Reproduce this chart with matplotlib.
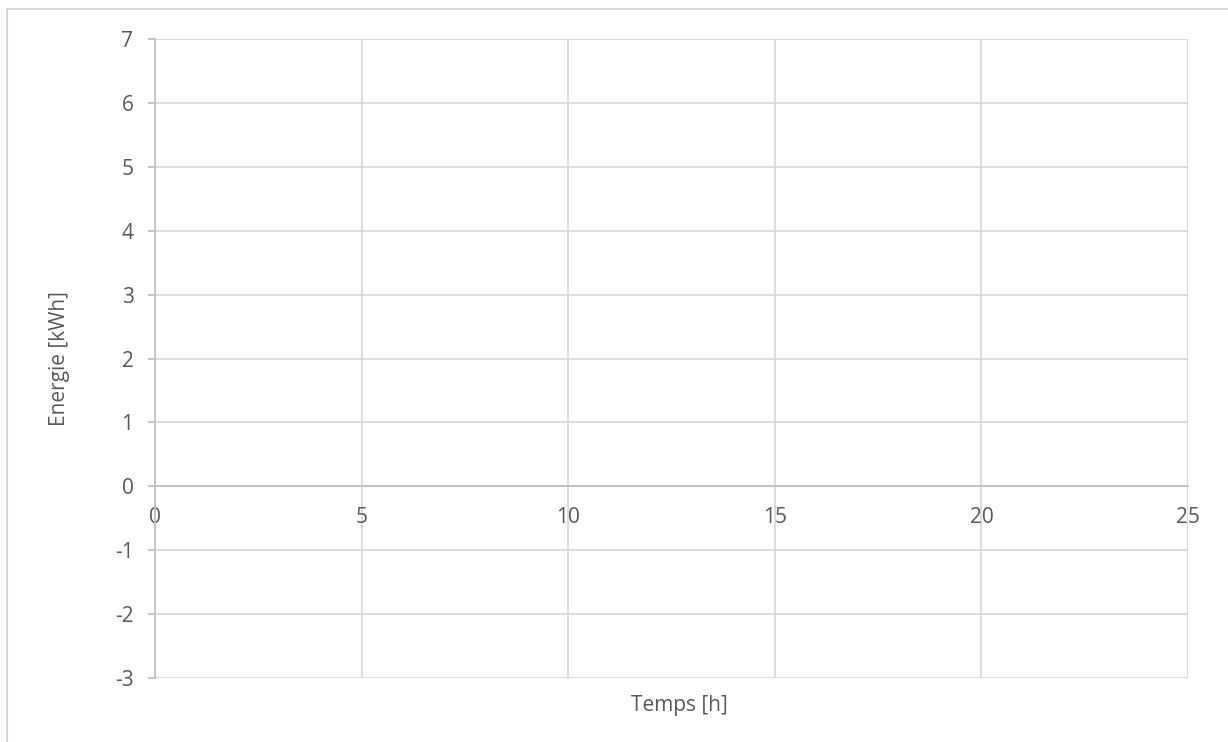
import matplotlib as mpl
import matplotlib.pyplot as plt
from matplotlib.lines import Line2D

mpl.use('Agg')

# Chart data (the reference chart has no series plotted)
x_ticks = [0, 5, 10, 15, 20, 25]
y_ticks = [-3, -2, -1, 0, 1, 2, 3, 4, 5, 6, 7]
x_label = 'Temps [h]'
y_label = 'Energie [kWh]'
series_x = []
series_y = []

plt.rcParams['font.family'] = ['Open Sans', 'DejaVu Sans']
plt.rcParams['axes.unicode_minus'] = False

text_color = '#595959'
grid_color = '#d9d9d9'
axis_color = '#bfbfbf'

fig = plt.figure(figsize=(12.28, 7.42), dpi=100)
ax = fig.add_axes([155 / 1228, 1 - 678 / 742, (1188 - 155) / 1228, (678 - 39) / 742])

ax.plot(series_x, series_y)

ax.set_xlim(x_ticks[0], x_ticks[-1])
ax.set_ylim(y_ticks[0], y_ticks[-1])
ax.set_xticks(x_ticks)
ax.set_yticks(y_ticks)

ax.grid(True, color=grid_color, linewidth=1.3)
ax.set_axisbelow(True)

for s in ['top', 'right']:
    ax.spines[s].set_visible(False)
ax.spines['left'].set_color(axis_color)
ax.spines['left'].set_linewidth(1.3)
ax.spines['bottom'].set_position(('data', 0))
ax.spines['bottom'].set_color(axis_color)
ax.spines['bottom'].set_linewidth(1.3)
ax.spines['bottom'].set_zorder(3)

ax.tick_params(axis='y', length=5, width=1.3, color=axis_color, pad=10.5, labelsize=15, labelcolor=text_color)
ax.tick_params(axis='x', length=0, pad=15, labelsize=15, labelcolor=text_color)

ax.set_xlabel(x_label, fontsize=15, color=text_color, va='center')
ax.set_ylabel(y_label, fontsize=15, color=text_color, va='center')
ax.xaxis.set_label_coords(0.5078, -(705 - 678) / 639)
ax.yaxis.set_label_coords((60 - 155) / 1033, 0.5)

# chart area border (cut off at right and bottom)
fig.add_artist(Line2D([7 / 1228, 7 / 1228, 1.0], [0.0, 1 - 9 / 742, 1 - 9 / 742],
                      transform=fig.transFigure, color=grid_color, linewidth=1.5))

plt.savefig('out.png', dpi=100)
